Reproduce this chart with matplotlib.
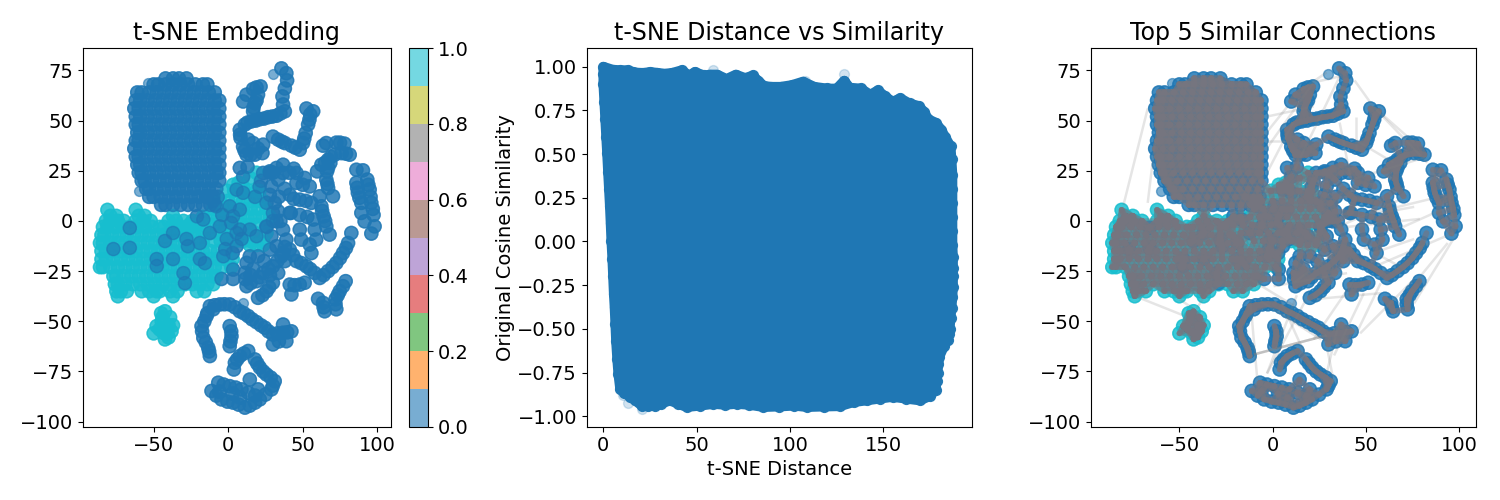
import numpy as np
import matplotlib
matplotlib.use('Agg')
import matplotlib.pyplot as plt
from matplotlib.collections import LineCollection

plt.rcParams['font.size'] = 14
plt.rcParams['axes.titlesize'] = 17

# big blue cluster
blob_rows_y = [71, 68, 64, 60, 56, 52, 48, 44, 40, 36, 32, 28, 24, 20, 16, 12, 8]
blob_rows_x = [
    [-42, -37, -33, -28],
    [-50, -47, -42, -37, -32, -27, -22, -17, -14],
    [-61, -58, -53, -48, -43, -38, -33, -28, -23, -18, -13, -9],
    [-62, -59, -54, -49, -44, -39, -34, -29, -24, -19, -14, -9, -6],
    [-63, -60, -55, -50, -45, -40, -35, -30, -25, -20, -15, -10, -6],
    [-62, -59, -54, -49, -44, -39, -34, -29, -24, -19, -14, -9, -6],
    [-62, -60, -55, -50, -45, -40, -35, -30, -25, -20, -15, -10, -6],
    [-61, -59, -54, -49, -44, -39, -34, -29, -24, -19, -14, -9, -6],
    [-62, -60, -55, -50, -45, -40, -35, -30, -25, -20, -15, -10, -6],
    [-63, -59, -54, -49, -44, -39, -34, -29, -24, -19, -14, -9, -6],
    [-62, -60, -55, -50, -45, -40, -35, -30, -25, -20, -15, -10, -6],
    [-61, -59, -54, -49, -44, -39, -34, -29, -24, -19, -14, -9, -6],
    [-60, -58, -53, -48, -43, -38, -33, -28, -23, -18, -13, -8, -6],
    [-58, -56, -51, -46, -41, -36, -31, -26, -21, -16, -11, -6],
    [-55, -53, -48, -43, -38, -33, -28, -23, -18, -13, -8],
    [-53, -50, -45, -40, -35, -30, -25, -20, -15, -10, -7],
    [-45, -42, -37, -32, -27, -22, -17, -12, -9],
]

# cyan cluster, same way
cyan_rows_y = [5.5, 2.5, 0, -3, -7, -11, -15, -19, -23, -27.5, -31.5, -35, -37.5]
cyan_rows_x = [
    [-81, -62],
    [-79, -75, -60, -56, -37],
    [-82, -79, -74, -70, -62, -57, -52, -40, -35, -30, -24],
    [-84, -81, -76, -71, -66, -61, -56, -51, -46, -43, -38, -33, -28, -25],
    [-85, -83, -78, -73, -68, -63, -58, -53, -48, -43, -38, -33, -28, -23, -21],
    [-86, -84, -79, -74, -69, -64, -59, -54, -49, -44, -39, -34, -29, -24, -19, -17],
    [-85, -82, -77, -72, -67, -62, -57, -52, -47, -42, -37, -32, -27, -22, -17, -12, -7, -1],
    [-85, -82, -77, -72, -67, -62, -57, -52, -47, -42, -37, -32, -27, -22, -17, -12, -7, -2, 3],
    [-86, -84, -79, -74, -69, -64, -59, -54, -49, -44, -39, -34, -29, -24, -19, -14, -9, -4, 2],
    [-77, -75, -70, -65, -60, -55, -50, -45, -40, -35, -30, -25, -20, -15, -10, -8],
    [-76, -74, -69, -64, -59, -54, -49, -44, -39, -34, -29, -24, -19, -14, -10],
    [-75, -72, -68, -58, -53, -48, -46, -39, -34, -21, -16],
    [-74, -50, -37],
]
cyan_lower_x = [-42.4, -39, -44.6, -48, -50, -43.5, -38, -42.4, -40, -45, -41, -46, -37, -44, -40]
cyan_lower_y = [-45, -48, -50, -52.4, -56, -55.7, -55, -59, -52, -46, -56, -54, -52, -48, -58]
cyan_right_x = [14.5, 3.3, 10, 19, 7, -1, 4, 9, 14, 19, 21, -5.6, 0, 5, 10, 15, 20, 23.4, -10, -5, 0, 5, 10, 15,
                20, 25.7, -17, -12, -7, -2, 3, 8, 13, 18, 23, 28, -26, -21, -16, -11, -6, -1, 4, 9, 14, 19, 25.7,
                -17, -12, -7, -2, 3, 8, 13, 18, 25.7, -10, -5, 0, 5, 10, 15, 23.4, 14.5, 19, 23.4]
cyan_right_y = [21.4, 18, 17, 24, 19, 15, 15, 15, 15, 15, 15, 10, 10, 10, 10, 10, 10, 10, 6, 6, 6, 6, 6, 6,
                6, 6, 2, 2, 2, 2, 2, 2, 2, 2, 2, 2, -2, -2, -2, -2, -2, -2, -2, -2, -2, -2, -2,
                -6, -6, -6, -6, -6, -6, -6, -6, -6, -10, -10, -10, -10, -10, -10, -10, -12, -12, -12]

# blue points lying on top of the cyan
sprinkle_x = [-66, -77, -66, -48, -47.9, -37, -42.4, -37, -28, -27, -19, -15.6, -29, -30, -1, 5.6, 7.8, 1, 3.3,
              7.8, 5.6, 10, -21, -16.7, -14.5, -8, 14.5, 19, -19, -3.3, 5.6, -5.6, -12.3, 10, 7.8, 28, 21, 25.7,
              25.7, 30, 3, -2, 9, 13, 22, 18, -10, -4, 2]
sprinkle_y = [-3.5, -14, -13.4, -19, -22.5, -6, -10, -19, -9, -12.6, -19, -21, -31, -26, -9, -12.6, -4.3, 7.3, 2.3,
              5.6, 15.6, 14, 2.3, 0.7, 12.3, 7.3, -4.3, -7.6, -11, -17.6, -6, -2.7, -6, 22, 26.4, 24, 17, 9,
              -3, 24, -16, -14, -9, 27, 20, 12, 10, 3, -1]

# thin blue strokes on the right, top to bottom
upper_x = [35.7, 39, 39.5, 38, 36.4, 36.8, 38, 35, 32.4, 29.5, 26.8, 24, 21.2, 18.5, 15.6, 13, 11.2, 7.8, 8, 8.3, 10,
           11, 12.3, 15, 17.9, 23, 16.7, 23.4, 13.4, 20, 10, 12.3, 16.7, 19, 21.7, 20, 19, 17.9, 17, 16.7,
           30, 33.5, 36, 38, 42.4, 45, 48, 50.2, 51, 52, 53.6, 54.5, 55, 52.5, 57, 63.6, 65.8]
upper_y = [76, 73.6, 70, 66, 62, 58, 54.6, 53.5, 52.4, 52, 51.7, 51, 50.7, 50, 49.6, 49, 48, 45.4, 43, 41.3, 37,
           35, 33, 33, 33, 33.8, 38.8, 38, 40.5, 36, 59.5, 62.9, 65.7, 66.5, 67, 62.9, 60, 58.7, 56.5, 54.6,
           42, 40.5, 39.5, 38.8, 37.5, 36.5, 35.5, 38.8, 41, 43.8, 48, 50.5, 53, 56, 54.6, 37.5, 38.8]
arc_x = [72.5, 75, 78, 81.5, 79, 76, 71.4, 69, 67, 65, 62.5, 59.6, 68.5, 67, 66.3, 65.8, 66.5, 67, 70.3,
         86, 90.4, 93.3, 94, 94.9, 95.5, 96, 97, 97.5, 98.2, 96, 86, 86.5, 87, 88, 89.3, 89.3, 91.5]
arc_y = [39, 39, 38.5, 33, 33.5, 33.8, 33, 32, 30.5, 29, 28, 24.7, 28.9, 26.5, 24.7, 20.6, 18.5, 16.4, 12.3,
         25.5, 25.2, 20.6, 18, 15.6, 12, 9, 6, 3, -2.7, -6.3, 19, 16.5, 14, 11.5, 9, 4, -0.2]
spine_x = [23.4, 27.9, 32.4, 36.8, 36.8, 33.5, 29, 27.9, 31.2, 33.5, 32.4, 36.8, 39, 41.3, 43.5, 45.8, 49, 52.5, 55,
           58, 61.4, 64, 67, 70, 72.5, 75, 77, 79, 80.4, 82.6, 25.7, 29, 32.4, 36.8, 30, 34, 38, 42, 30, 35, 38]
spine_y = [23.9, 24.7, 26.4, 28, 23.9, 20.6, 17.2, 13, 9, 4.8, -0.2, -4.3, -9.3, -14.3, -17, -20, -21, -22.6, -24,
           -25.9, -28.4, -27, -25, -23, -21, -18.5, -16, -13.5, -11, -6, -2.7, -7.6, -12.6, -16, 4, 12, 16, 4, 0, 0, -13]
middle_x = [45.8, 51.3, 54.7, 45.8, 50, 41.3, 44, 48, 52, 55.8, 61.4, 62.5, 63, 64, 65, 65.8, 68,
            41.3, 48, 53, 57, 58, 59, 55.8, 54.7, 48, 49, 44, 41]
middle_y = [23.9, 21.4, 17.2, 19, 18, 13, 11, 10.6, 10, 9, 12.3, 7.3, 5, 2.3, 0, -2.7, -6.8,
            4, 3, 2, 0.7, -4.3, -9.3, -16, -11.8, -4.3, -9.3, 26, 24]
lower_x = [12.3, 11.2, 11.5, 12.3, 15, 19, 21, 23.4, 27, 30, 33, 35.7, 27.9, 33.5, 30, 27.5, 25.7, 23, 20, 16.7, 20, 14.5,
           15, 24, 28, 38, 41.3, 44.5, 48, 42.4, 51.3, 60.3, 63.6, 64.7, 72.5, 72, 73.5, 74.8, 77, 78.8, 64, 72,
           -4.5, 3.3, 3.3]
lower_y = [-20.9, -25.9, -29, -32.5, -31, -30, -28, -25.9, -24, -22.6, -20, -17.6, -14.3, -25.9, -30.8, -33, -35, -37,
           -38.3, -24, -17.6, -17.6, -27, -20, -27, -20, -31.7, -32, -31.7, -36.6, -30.8, -38.8, -40.8, -45, -44, -39, -37,
           -35, -32.5, -30, -43, -41.5, -28.9, -28.9, -24.2]
bottom_x = [-12.3, -9, -5.6, -2.5, 1, 4.5, 7.8, 10.5, 13.4, 16, 19, 22, 24.6, 27, 30, 33, 36.8, 39.5, 42.4, 36.8, 30, 34, 39,
            -17.9, -16, -14.5, -17.5, -16.7, -15, -13.4, -12.8, -12.3, 1, 2, 2.2, 1.5, 1,
            13.4, 10.5, 7.8, 6, 4.5, 3.8, 17.9, 19.5, 21.2, 23.5, 25.7, 28.5, 31.2, 30, 29, 25, 21.2, 18, 14.5, 11.2, 7, 3.3, -0.5,
            -4.5, -8, -11.2, -6.7, -3, 1, 5, 8.9, 14.5, 13.4, 20, 18, 8, 3, -14, -10, -6]
bottom_y = [-42.5, -42, -41.6, -41.5, -41.6, -43, -45, -46, -47.4, -49, -50.4, -52, -53.2, -55, -56.6, -56, -55.7, -55.5, -55, -51.6, -61.5, -60, -59.9,
            -52.4, -50, -47.4, -55, -58.2, -60.5, -63.2, -65, -67.3, -52.4, -55, -57.4, -60, -62.4,
            -64.8, -66, -67.3, -69, -70.6, -74, -69, -71, -73, -75, -76.5, -78, -79.8, -82, -83.9, -86.5, -88.9, -90.5, -92, -93, -91.5, -90.5, -90,
            -88.9, -87, -84.7, -80.6, -81.5, -82.3, -83, -83.9, -79, -85.6, -83.9, -87, -88, -86, -46, -44, -85]

# faint single points
stray_x = [-60, 30, 10, -54]
stray_y = [15, 73, -41, 68.5]

# longer connections seen in the right panel
link_x0 = [-80, -67, -75, -50, -34, 44, 54, 54, 97, 94, 97, 97, -12, -10, -10, -10, 29, 47, 45, -3, -4, -3, 29, 22,
           83, 85, 76, 65, 94, 4, -12, 13, 36, 44, 49, 0.5, 22, 85, -5, -4, 11, 49, 79, 72, 45, 36, 76, -8, 18, 11]
link_y0 = [8, 9, -37, -39, -34, 70, 57, 57, -9, -11, -8, -6, -39, -66.5, -66.5, -66.5, -62, -56, -56, 52, 40, 24, 74, 69,
           32, 11, 7, 29, 7, -39, -29, -37, -49, -29, -36, -32.5, -39, 27, 42, 35, -31, -13, 1, 12, 52, 49, -9, -39, -39, 24]
link_x1 = [-67, -63, -48, -42, -41, 54, 83, 76, 76, 78, 94, 54, -8, 29, 29, 29, 33, 76, 58, 22, 8, 11, 15, 36,
           44, 54, 58, 45, 70, 22, 11, -3, 29, 22, 33, 40, 58, 99, 8, 22, 33, 69, 40, 35, 45, 42, 54, 26, -3, 36]
link_y1 = [56, 40, -47, -44, -44, 57, 29, 39, -41, -29, 24, -23, -81, -57, -57, -57, -81, -29, -31, 57, 40, 49, 65, 72,
           21, 4, 4, 40, -3, -76, -42, -76, -76, -59, -67, -26, -36, -3, 57, 69, -16, -23, -3, -3, 35, 21, -16, -59, -76, 72]

# outline of the middle panel cloud
top_dist = [0, 5, 9, 13, 16, 19, 22, 25, 29, 33, 37, 42, 46, 49, 54, 57, 61, 66, 71, 76, 80, 83, 86, 90, 95, 101, 107, 113, 120,
            125, 129, 132, 138, 143, 147, 151, 155, 159, 164, 169, 172, 174, 178, 181, 183, 186]
top_sim = [1.0, 0.983, 0.98, 0.98, 0.97, 0.965, 0.965, 0.97, 0.965, 0.96, 0.965, 0.98, 0.95, 0.97, 0.95, 0.955, 0.955, 0.93, 0.955,
           0.935, 0.95, 0.92, 0.89, 0.885, 0.885, 0.895, 0.915, 0.885, 0.875, 0.875, 0.92, 0.88, 0.875, 0.84, 0.865, 0.83, 0.80,
           0.82, 0.79, 0.775, 0.74, 0.70, 0.68, 0.64, 0.60, 0.545]
right_dist = [186.5, 187, 187, 187, 187, 187, 187, 187.3, 187.3, 187.3, 187.3, 187, 186.5, 186, 185.5, 185, 184.5, 182.5,
              180, 179.5, 179, 178.5, 178, 175]
right_sim = [0.47, 0.38, 0.3, 0.22, 0.14, 0.06, -0.02, -0.09, -0.15, -0.2, -0.26, -0.317, -0.38, -0.44, -0.5, -0.53, -0.565, -0.6,
             -0.66, -0.7, -0.75, -0.8, -0.85, -0.885]
bottom_dist = [169.6, 162, 155, 148, 141, 134, 126.8, 118, 109, 102, 94, 85.7, 78, 71.4, 65, 59, 52, 44.6, 40, 35.7, 31, 27.7,
               24, 20.5, 17, 14.3, 11, 9]
bottom_sim = [-0.91, -0.9, -0.89, -0.9, -0.91, -0.92, -0.943, -0.945, -0.948, -0.94, -0.945, -0.948, -0.935, -0.93, -0.935, -0.93,
              -0.94, -0.948, -0.93, -0.91, -0.93, -0.94, -0.94, -0.94, -0.91, -0.89, -0.865, -0.845]
left_dist = [8, 7.4, 6.8, 6.4, 6, 5.6, 5.2, 4.8, 4.3, 3.9, 3.5, 3, 2.5, 2, 1.5, 1, 0.5, 0, 0]
left_sim = [-0.756, -0.67, -0.57, -0.47, -0.374, -0.3, -0.2, -0.1, 0, 0.103, 0.2, 0.3, 0.4, 0.504, 0.6, 0.7, 0.8, 0.9, 0.96]
stray_dist = [13.4, 20.5, 59, 129, 10.7, 108]
stray_sim = [-0.924, -0.956, 0.98, 0.956, -0.88, 0.92]


def expand_rows(rows_x, rows_y):
    xs, ys = [], []
    for row, y in zip(rows_x, rows_y):
        xs += row
        ys += [y] * len(row)
    return xs, ys


blob_x, blob_y = expand_rows(blob_rows_x, blob_rows_y)
cyan_x, cyan_y = expand_rows(cyan_rows_x, cyan_rows_y)

blue_x = blob_x + upper_x + arc_x + spine_x + middle_x + lower_x + bottom_x
blue_y = blob_y + upper_y + arc_y + spine_y + middle_y + lower_y + bottom_y
teal_x = cyan_x + cyan_lower_x + cyan_right_x
teal_y = cyan_y + cyan_lower_y + cyan_right_y

# cyan first, then blue, then the blue ones sitting in the cyan
tsne_x = np.array(teal_x + blue_x + sprinkle_x)
tsne_y = np.array(teal_y + blue_y + sprinkle_y)
labels = np.array([1] * len(teal_x) + [0] * len(blue_x) + [0] * len(sprinkle_x))

cloud_x = top_dist + right_dist + bottom_dist + left_dist
cloud_y = top_sim + right_sim + bottom_sim + left_sim

fig, axes = plt.subplots(1, 3, figsize=(15, 5))


def draw_embedding(ax):
    sc = None
    for _ in range(2):
        sc = ax.scatter(tsne_x, tsne_y, c=labels, cmap='tab10', alpha=0.6, s=90, vmin=0, vmax=1)
    ax.scatter(stray_x, stray_y, c='#1f77b4', alpha=0.6, s=50)
    ax.set_xlim(-97.6, 109)
    ax.set_ylim(-102.5, 86)
    return sc


# t-SNE panel
sc = draw_embedding(axes[0])
axes[0].set_title('t-SNE Embedding')
cbar = plt.colorbar(sc, ax=axes[0])

# distance panel
axes[1].fill(cloud_x, cloud_y, facecolor='#1f77b4', edgecolor='#1f77b4', lw=7, joinstyle='round')
axes[1].scatter(cloud_x, cloud_y, color='#1f77b4', alpha=0.95, s=50)
axes[1].scatter(stray_dist, stray_sim, color='#1f77b4', alpha=0.2, s=50)
axes[1].set_xlim(-8.9, 197.3)
axes[1].set_ylim(-1.06, 1.105)
axes[1].set_xlabel('t-SNE Distance', labelpad=3.3)
axes[1].set_ylabel('Original Cosine Similarity', labelpad=1.5)
axes[1].set_title('t-SNE Distance vs Similarity')

# connections panel: every point to its closest points, measured on screen
draw_embedding(axes[2])
pts = np.column_stack([tsne_x, tsne_y])
segments = []
for i in range(len(pts)):
    dist = np.hypot((pts[:, 0] - pts[i, 0]) * 1.86, (pts[:, 1] - pts[i, 1]) * 2.0)
    for j in np.argsort(dist)[1:9]:
        if dist[j] < 15:
            segments.append([pts[i], pts[j]])
axes[2].add_collection(LineCollection(segments, colors='#77757f', linewidths=4.0, alpha=0.4, capstyle='round'))
long_links = [[(a, b), (c, d)] for a, b, c, d in zip(link_x0, link_y0, link_x1, link_y1)]
axes[2].add_collection(LineCollection(long_links, colors='gray', linewidths=1.8, alpha=0.2))
axes[2].set_title('Top 5 Similar Connections')

plt.tight_layout()

# panel boxes as measured on the reference, in figure fractions
top_px, bottom_px = 48.3, 426.7
box_bottom = (500 - bottom_px) / 500
box_height = (bottom_px - top_px) / 500
axes[0].set_position([82.7 / 1500, box_bottom, 308 / 1500, box_height])
cbar.ax.set_position([409.3 / 1500, box_bottom, 19 / 1500, box_height])
axes[1].set_position([586.7 / 1500, box_bottom, 385 / 1500, box_height])
axes[2].set_position([1090.7 / 1500, box_bottom, 385 / 1500, box_height])

plt.savefig('out.png', dpi=100)
